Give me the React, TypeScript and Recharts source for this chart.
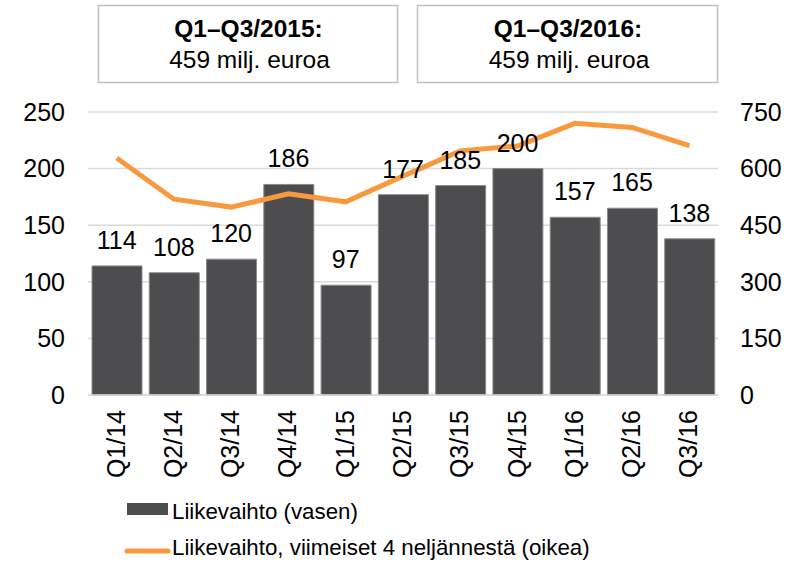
import React from 'react';
import { ComposedChart, Bar, Line, XAxis, YAxis, CartesianGrid, LabelList } from 'recharts';

const quarters = ['Q1/14', 'Q2/14', 'Q3/14', 'Q4/14', 'Q1/15', 'Q2/15', 'Q3/15', 'Q4/15', 'Q1/16', 'Q2/16', 'Q3/16'];
const revenue = [114, 108, 120, 186, 97, 177, 185, 200, 157, 165, 138];
const rolling = [628, 519, 498, 533, 512, 580, 647, 660, 720, 709, 661];
const leftTicks = [0, 50, 100, 150, 200, 250];
const rightTicks = [0, 150, 300, 450, 600, 750];
const boxTitles = ['Q1–Q3/2015:', 'Q1–Q3/2016:'];
const boxValues = ['459 milj. euroa', '459 milj. euroa'];
const legendLabels = ['Liikevaihto (vasen)', 'Liikevaihto, viimeiset 4 neljännestä (oikea)'];

const data = quarters.map((q, i) => ({ q, rev: revenue[i], ltm: rolling[i] }));

const FONT = '"Liberation Sans", Arial, sans-serif';
const BAR = '#4d4d4f';
const ORANGE = '#f79a3e';

const XTick = (props: any) => {
  const { x, y, payload } = props;
  return (
    <text
      x={x - 1}
      y={y + 13}
      transform={`rotate(-90, ${x - 1}, ${y + 13})`}
      textAnchor="end"
      dominantBaseline="central"
      fontSize={25}
      fontFamily={FONT}
      fill="#000"
    >
      {payload.value}
    </text>
  );
};

export default function App() {
  const boxes = [
    { x: 98, w: 299 },
    { x: 417, w: 300 },
  ];
  return (
    <div style={{ position: 'absolute', left: 0, top: 0, width: 797, height: 567, background: '#fff' }}>
      <ComposedChart
        width={797}
        height={567}
        data={data}
        margin={{ top: 112, right: 0, bottom: 0, left: 0 }}
        style={{ fontFamily: FONT }}
      >
        <CartesianGrid yAxisId="left" vertical={false} stroke="#d9d9d9" strokeWidth={1.5} />
        <XAxis
          dataKey="q"
          height={172}
          interval={0}
          tickLine={false}
          tickSize={0}
          axisLine={{ stroke: '#d9d9d9', strokeWidth: 1.5 }}
          tick={<XTick />}
        />
        <YAxis
          yAxisId="left"
          orientation="left"
          width={88}
          domain={[0, 250]}
          ticks={leftTicks}
          axisLine={false}
          tickLine={false}
          tickSize={0}
          tickMargin={23}
          tick={{ fontSize: 25, fill: '#000', fontFamily: FONT }}
        />
        <YAxis
          yAxisId="right"
          orientation="right"
          width={79}
          domain={[0, 750]}
          ticks={rightTicks}
          axisLine={false}
          tickLine={false}
          tickSize={0}
          tickMargin={22}
          tick={{ fontSize: 25, fill: '#000', fontFamily: FONT, textAnchor: 'start' }}
        />
        <Bar yAxisId="left" dataKey="rev" barSize={50} fill={BAR} stroke="#8a8a8a" strokeWidth={1} isAnimationActive={false} />
        <Line
          yAxisId="right"
          dataKey="ltm"
          type="linear"
          stroke={ORANGE}
          strokeWidth={5}
          dot={false}
          activeDot={false}
          isAnimationActive={false}
        />
        <Line yAxisId="left" dataKey="rev" stroke="none" dot={false} activeDot={false} isAnimationActive={false}>
          <LabelList dataKey="rev" position="top" offset={17} fontSize={25} fill="#000" fontFamily={FONT} />
        </Line>
      </ComposedChart>
      <svg width={797} height={567} style={{ position: 'absolute', left: 0, top: 0, pointerEvents: 'none' }}>
        {boxes.map((b, i) => (
          <g key={i}>
            <rect x={b.x + 0.5} y={5.5} width={b.w} height={77} fill="#fff" stroke="#bfbfbf" strokeWidth={1.5} />
            <text x={b.x + b.w / 2 + 1} y={37} textAnchor="middle" fontSize={24.5} fontWeight="bold" fontFamily={FONT} fill="#000">
              {boxTitles[i]}
            </text>
            <text x={b.x + b.w / 2 + 2} y={67.5} textAnchor="middle" fontSize={24.5} fontFamily={FONT} fill="#000">
              {boxValues[i]}
            </text>
          </g>
        ))}
        <rect x={127} y={503} width={41} height={12} fill={BAR} />
        <text x={172} y={519} fontSize={22.3} fontFamily={FONT} fill="#000">{legendLabels[0]}</text>
        <line x1={127} y1={551} x2={168} y2={551} stroke={ORANGE} strokeWidth={5} strokeLinecap="round" />
        <text x={172} y={555} fontSize={22.3} fontFamily={FONT} fill="#000">{legendLabels[1]}</text>
      </svg>
    </div>
  );
}
